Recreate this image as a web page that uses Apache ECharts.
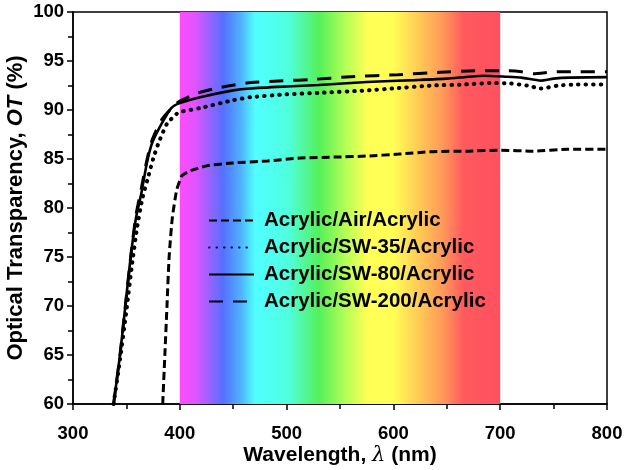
<!DOCTYPE html>
<html>
<head>
<meta charset="utf-8">
<script src="https://cdn.jsdelivr.net/npm/echarts@6/dist/echarts.min.js"></script>
<style>
  html, body { margin: 0; padding: 0; background: #fff; }
  #chart { width: 628px; height: 470px; }
</style>
</head>
<body>
<div id="chart"></div>
<script>
// wavelengths (nm) and optical transparency (%)
var airX = [384, 386, 388, 390, 393, 397, 400, 402, 410, 425, 450, 482, 513, 547, 575, 605, 637, 670, 700, 731, 763, 800];
var airY = [60, 65, 70, 75, 79, 81.8, 82.8, 83.3, 83.8, 84.3, 84.6, 84.8, 85.1, 85.2, 85.3, 85.5, 85.75, 85.8, 85.9, 85.8, 86.0, 86.0];

var sw35X = [338, 344, 350, 355, 360, 365, 370, 375, 380, 388, 397, 400, 419, 450, 466, 500, 530, 575, 600, 637, 665, 691, 710, 725, 738, 755, 772, 800];
var sw35Y = [60, 64.5, 69.5, 74, 78, 81, 83, 85, 86.6, 88.6, 89.6, 89.8, 90.2, 91.0, 91.3, 91.6, 91.75, 92.0, 92.2, 92.5, 92.6, 92.75, 92.7, 92.5, 92.2, 92.5, 92.6, 92.6];

var sw80X = [338, 344, 349, 354, 359, 364, 369, 374, 383, 392, 400, 419, 450, 466, 500, 530, 575, 620, 650, 685, 705, 720, 738, 750, 765, 800];
var sw80Y = [60, 65, 70, 75, 79, 81.5, 84.5, 86.6, 88.6, 90.2, 90.7, 91.3, 92.0, 92.2, 92.4, 92.55, 92.85, 93.05, 93.2, 93.5, 93.4, 93.3, 93.0, 93.2, 93.3, 93.35];

var sw200X = [338, 344, 349, 354, 359, 364, 369, 374, 383, 395, 400, 416, 438, 466, 500, 522, 560, 604, 644, 681, 707, 720, 731, 753, 769, 800];
var sw200Y = [60, 65, 70, 75, 79.3, 82, 84.8, 86.9, 89.0, 90.5, 90.9, 91.7, 92.3, 92.8, 93.0, 93.1, 93.4, 93.6, 93.85, 94.0, 94.0, 93.9, 93.7, 93.9, 93.9, 93.9];

var seriesNames = ['Acrylic/Air/Acrylic', 'Acrylic/SW-35/Acrylic', 'Acrylic/SW-80/Acrylic', 'Acrylic/SW-200/Acrylic'];
var xTicks = [300, 400, 500, 600, 700, 800];
var yTicks = [60, 65, 70, 75, 80, 85, 90, 95, 100];
var visibleBand = [400, 700];

function pairs(xs, ys) {
  return xs.map(function (x, i) { return [x, ys[i]]; });
}

var font = 'Arial, "Liberation Sans", sans-serif';
var chart = echarts.init(document.getElementById('chart'));

function lineSeries(name, xs, ys, style) {
  return {
    name: name,
    type: 'line',
    data: pairs(xs, ys),
    symbol: 'none',
    smooth: 0.2,
    z: 3,
    itemStyle: { color: '#000' },
    lineStyle: Object.assign({ color: '#000' }, style)
  };
}

chart.setOption({
  animation: false,
  grid: {
    left: 73, right: 21, top: 12, bottom: 66,
    containLabel: false, outerBoundsMode: 'none',
    show: true, borderColor: '#000', borderWidth: 1.5, backgroundColor: 'transparent'
  },
  legend: {
    orient: 'vertical',
    left: 203, top: 205,
    itemWidth: 45, itemHeight: 14, itemGap: 6,
    data: seriesNames,
    itemStyle: { opacity: 0 },
    textStyle: { fontFamily: font, fontWeight: 'bold', fontSize: 20.5, color: '#000', padding: [0, 0, 0, 5] }
  },
  xAxis: {
    type: 'value',
    min: xTicks[0], max: xTicks[xTicks.length - 1], interval: 100,
    name: '{b|Wavelength, }{i|λ}{b| (nm)}',
    nameLocation: 'middle', nameGap: 41, nameMoveOverlap: false,
    nameTextStyle: {
      rich: {
        b: { fontFamily: font, fontWeight: 'bold', fontSize: 21, color: '#000' },
        i: { fontFamily: '"DejaVu Serif", serif', fontStyle: 'italic', fontSize: 21, color: '#000' }
      }
    },
    splitLine: { show: false },
    axisLine: { lineStyle: { color: '#000', width: 1.5 } },
    axisTick: { inside: false, length: 6, lineStyle: { width: 1.5 } },
    minorTick: { show: true, splitNumber: 2, length: 5, lineStyle: { color: '#000', width: 1.5 } },
    axisLabel: { fontFamily: font, fontWeight: 'bold', fontSize: 18.5, color: '#000', margin: 20 }
  },
  yAxis: {
    type: 'value',
    min: yTicks[0], max: yTicks[yTicks.length - 1], interval: 5,
    name: '{b|Optical Transparency, }{i|OT}{b| (%)}',
    nameLocation: 'middle', nameGap: 46, nameMoveOverlap: false,
    nameTextStyle: {
      rich: {
        b: { fontFamily: font, fontWeight: 'bold', fontSize: 22, color: '#000' },
        i: { fontFamily: font, fontWeight: 'bold', fontStyle: 'italic', fontSize: 22, color: '#000' }
      }
    },
    splitLine: { show: false },
    axisLine: { lineStyle: { color: '#000', width: 1.5 } },
    axisTick: { inside: false, length: 6, lineStyle: { width: 1.5 } },
    minorTick: { show: true, splitNumber: 2, length: 5, lineStyle: { color: '#000', width: 1.5 } },
    axisLabel: { fontFamily: font, fontWeight: 'bold', fontSize: 18.5, color: '#000', margin: 9 }
  },
  series: [
    {
      name: 'band',
      type: 'line',
      data: [],
      z: 1,
      silent: true,
      markArea: {
        silent: true,
        itemStyle: {
          color: {
            type: 'linear', x: 0, y: 0, x2: 1, y2: 0,
            colorStops: [
              { offset: 0, color: '#FF4CFF' },
              { offset: 0.05, color: '#DD55FF' },
              { offset: 0.135, color: '#5570FF' },
              { offset: 0.19, color: '#50B0FF' },
              { offset: 0.235, color: '#50FFFF' },
              { offset: 0.34, color: '#50FFDD' },
              { offset: 0.435, color: '#55F05A' },
              { offset: 0.52, color: '#B8FF55' },
              { offset: 0.585, color: '#FFFF55' },
              { offset: 0.665, color: '#FFFF55' },
              { offset: 0.75, color: '#FFC855' },
              { offset: 0.82, color: '#FF9A5A' },
              { offset: 0.885, color: '#FF5A5E' },
              { offset: 1, color: '#FF5060' }
            ]
          }
        },
        data: [[{ xAxis: visibleBand[0], yAxis: yTicks[0] }, { xAxis: visibleBand[1], yAxis: yTicks[yTicks.length - 1] }]]
      }
    },
    lineSeries(seriesNames[0], airX, airY, { width: 3, type: [8, 4] }),
    lineSeries(seriesNames[1], sw35X, sw35Y, { width: 4, type: [0.5, 7], cap: 'round' }),
    lineSeries(seriesNames[2], sw80X, sw80Y, { width: 2.6, type: 'solid' }),
    lineSeries(seriesNames[3], sw200X, sw200Y, { width: 3, type: [14, 10] })
  ]
});
</script>
</body>
</html>
